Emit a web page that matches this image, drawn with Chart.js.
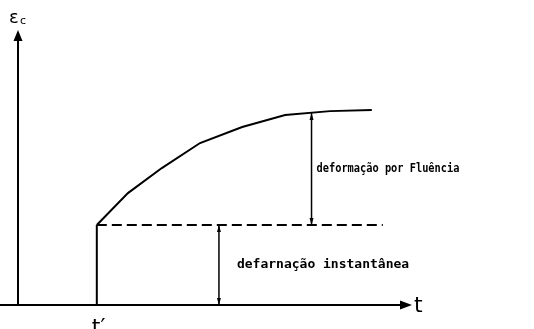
<!DOCTYPE html>
<html>
<head>
<meta charset="utf-8">
<script src="https://cdn.jsdelivr.net/npm/chart.js@4.4.0/dist/chart.umd.min.js"></script>
<style>
html,body{margin:0;padding:0;background:#fff;}
#wrap{width:534px;height:329px;position:relative;}
</style>
</head>
<body>
<div id="wrap"><canvas id="c"></canvas></div>
<script>
// Data (time units, strain units)
const curveX = [2.0, 2.79, 3.65, 4.62, 5.69, 6.78, 7.92, 8.98];
const curveY = [2.91, 4.07, 4.98, 5.89, 6.47, 6.91, 7.05, 7.09];
const tPrime = 2.0;
const instantLevel = 2.91;
const dashedEnd = 9.26;
const instantArrowX = 5.1;
const creepArrowX = 7.45;
const creepArrowTop = 6.98;
const axisXMin = -0.457, axisXMax = 10, axisYMax = 10;
const labelTexts = {
  yAxis: "ε",
  ySub: "c",
  xAxis: "t",
  tick: "t′",
  creep: "deformação por Fluência",
  instant: "defarnação instantânea"
};

const curveData = curveX.map((x, i) => ({x, y: curveY[i]}));

const drawPlugin = {
  id: 'drawExtras',
  afterDatasetsDraw(chart) {
    const ctx = chart.ctx;
    const xs = chart.scales.x, ys = chart.scales.y;
    const X = v => xs.getPixelForValue(v), Y = v => ys.getPixelForValue(v);
    ctx.save();
    ctx.strokeStyle = '#000';
    ctx.fillStyle = '#000';
    // axes
    ctx.lineWidth = 2;
    ctx.beginPath();
    ctx.moveTo(X(axisXMin), Y(0));
    ctx.lineTo(X(axisXMax) - 8, Y(0));
    ctx.moveTo(X(0), Y(0));
    ctx.lineTo(X(0), Y(axisYMax) + 8);
    ctx.stroke();
    // arrowheads
    ctx.beginPath();
    ctx.moveTo(X(axisXMax), Y(0));
    ctx.lineTo(X(axisXMax) - 12, Y(0) - 4.5);
    ctx.lineTo(X(axisXMax) - 12, Y(0) + 4.5);
    ctx.closePath();
    ctx.fill();
    ctx.beginPath();
    ctx.moveTo(X(0), Y(axisYMax));
    ctx.lineTo(X(0) - 4.5, Y(axisYMax) + 11);
    ctx.lineTo(X(0) + 4.5, Y(axisYMax) + 11);
    ctx.closePath();
    ctx.fill();
    // double arrows
    function dbl(xv, y0, y1) {
      const px = X(xv), p0 = Y(y0), p1 = Y(y1);
      ctx.lineWidth = 1.5;
      ctx.beginPath();
      ctx.moveTo(px, p0); ctx.lineTo(px, p1); ctx.stroke();
      ctx.beginPath();
      ctx.moveTo(px, p1); ctx.lineTo(px - 2, p1 + 7); ctx.lineTo(px + 2, p1 + 7); ctx.closePath(); ctx.fill();
      ctx.beginPath();
      ctx.moveTo(px, p0); ctx.lineTo(px - 2, p0 - 7); ctx.lineTo(px + 2, p0 - 7); ctx.closePath(); ctx.fill();
    }
    dbl(instantArrowX, 0, instantLevel);
    dbl(creepArrowX, instantLevel, creepArrowTop);
    // labels
    ctx.textBaseline = 'alphabetic';
    ctx.textAlign = 'left';
    ctx.font = '18px "DejaVu Sans"';
    ctx.fillText(labelTexts.yAxis, X(0) - 9, Y(axisYMax) - 7);
    ctx.font = '11px "DejaVu Sans"';
    ctx.fillText(labelTexts.ySub, X(0) + 2, Y(axisYMax) - 6);
    ctx.font = '22px "DejaVu Sans"';
    ctx.fillText(labelTexts.xAxis, X(axisXMax) + 2, Y(0) + 7);
    ctx.fillText(labelTexts.tick, X(tPrime) - 5, Y(0) + 29);
    ctx.textBaseline = 'middle';
    // creep label, slightly condensed
    ctx.save();
    ctx.font = 'bold 12px "DejaVu Sans Mono"';
    ctx.translate(X(creepArrowX) + 5, (Y(instantLevel) + Y(creepArrowTop)) / 2);
    ctx.scale(0.86, 1);
    ctx.fillText(labelTexts.creep, 0, 0);
    ctx.restore();
    ctx.font = 'bold 13px "DejaVu Sans Mono"';
    ctx.fillText(labelTexts.instant, X(instantArrowX) + 18, Y(instantLevel / 2));
    ctx.restore();
  }
};

new Chart(document.getElementById('c'), {
  type: 'scatter',
  data: {
    datasets: [
      {data: curveData, showLine: true, borderColor: '#000', borderWidth: 2, pointRadius: 0, tension: 0, clip: false},
      {data: [{x: tPrime, y: 0}, {x: tPrime, y: instantLevel}], showLine: true, borderColor: '#000', borderWidth: 2, pointRadius: 0, clip: false},
      {data: [{x: tPrime, y: instantLevel}, {x: dashedEnd, y: instantLevel}], showLine: true, borderColor: '#000', borderWidth: 2, borderDash: [10, 5], pointRadius: 0, clip: false}
    ]
  },
  options: {
    responsive: true,
    maintainAspectRatio: false,
    animation: false,
    devicePixelRatio: 1,
    layout: {padding: {left: 0, right: 122, top: 30, bottom: 24}},
    plugins: {legend: {display: false}, tooltip: {enabled: false}},
    scales: {
      x: {type: 'linear', display: false, min: axisXMin, max: axisXMax},
      y: {type: 'linear', display: false, min: 0, max: axisYMax}
    }
  },
  plugins: [drawPlugin]
});
</script>
</body>
</html>
